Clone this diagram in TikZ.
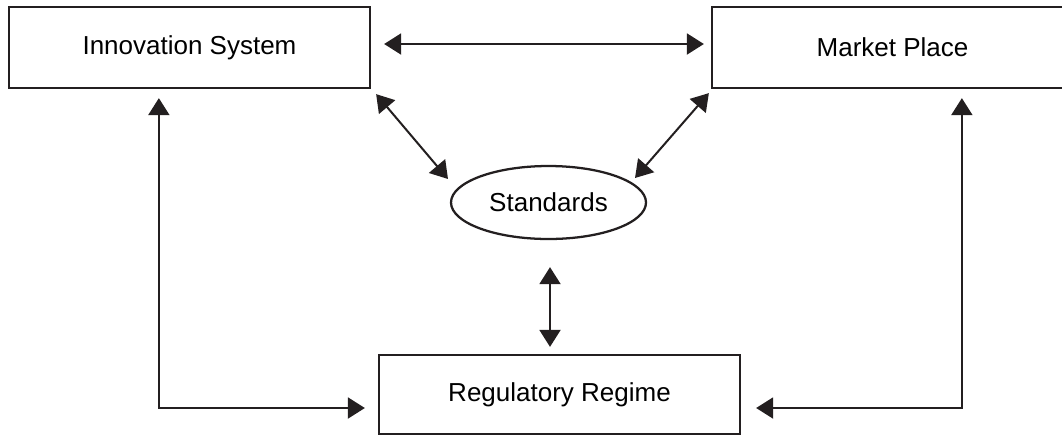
\documentclass[tikz,border=0pt]{standalone}
\usepackage{fontspec}
\setmainfont{Liberation Sans}
\usetikzlibrary{shapes.geometric,arrows.meta,calc}
\definecolor{ink}{RGB}{35,31,32}
\tikzset{
  px/.style={x=0.75pt,y=-0.75pt},
  box/.style={draw=ink,line width=1.7pt,inner sep=0pt,minimum width=270.75pt,minimum height=60.75pt,font=\fontsize{19.5pt}{23pt}\selectfont,text=black},
  oval/.style={draw=ink,ellipse,line width=1.7pt,inner sep=0pt,minimum width=146.25pt,minimum height=54.75pt,font=\fontsize{19.5pt}{23pt}\selectfont,text=black},
  link/.style={draw=ink,line width=1.5pt,{Triangle[length=12.75pt,width=15.75pt]}-{Triangle[length=12.75pt,width=15.75pt]}}
}
\begin{document}
\begin{tikzpicture}[px]
\useasboundingbox (0,0) rectangle (1062,436);
\node[box] (inn) at (189.5,47.5) {Innovation System};
\node[box] (mkt) at (892.5,47.5) {Market Place};
\node[box,minimum height=59.25pt] (reg) at (559.5,394.5) {Regulatory Regime};
\node[oval] (std) at (548.5,202.5) {Standards};
% connectors
\draw[link] ($(inn.east)+(13,-3.5)$) -- ($(mkt.west)+(-7,-3.5)$);
\draw[link] ($(inn.south east)+(5,5)$) -- ($(std.center)+(-100.5,-23.5)$);
\draw[link] ($(mkt.south west)+(-2,4)$) -- ($(std.center)+(86.5,-24.5)$);
\draw[link] ($(std.south)+(1.5,27)$) -- ($(reg.north)+(-9.5,-7)$);
\draw[link] ($(inn.south west)+(151,9)$) |- ($(reg.west)+(-13,13.5)$);
\draw[link] ($(mkt.south west)+(251,9)$) |- ($(reg.east)+(15,13.5)$);
\end{tikzpicture}
\end{document}
